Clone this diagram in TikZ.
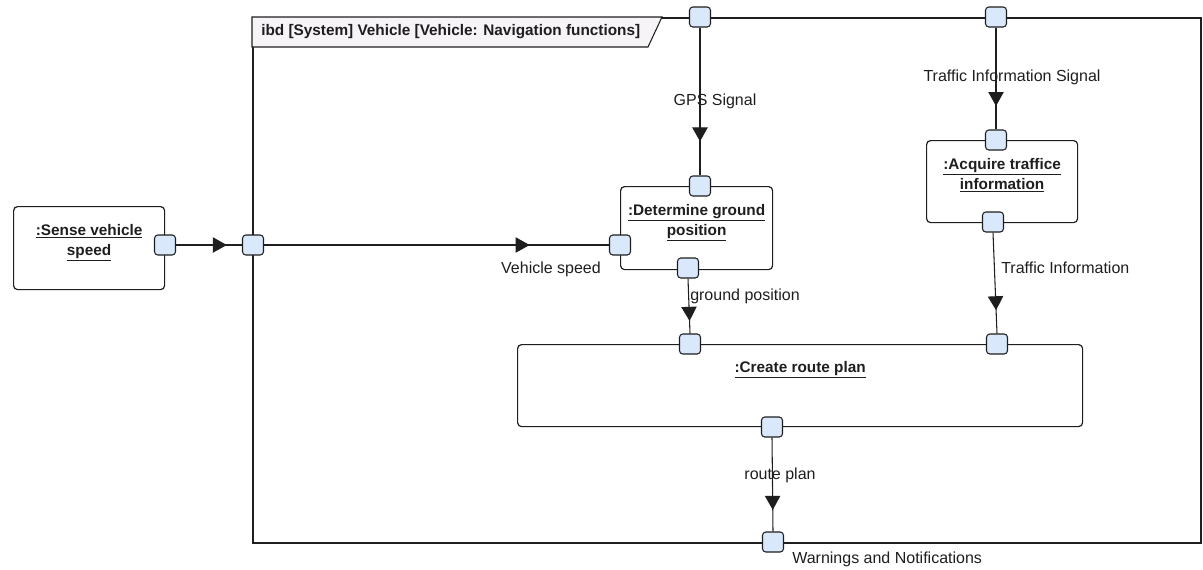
\documentclass[tikz,border=0pt]{standalone}
\usepackage{fontspec}
\setmainfont{Liberation Sans}
\usetikzlibrary{arrows.meta,decorations.markings,calc}

\definecolor{portfill}{HTML}{DAE8FC}
\definecolor{tabfill}{HTML}{F7F4F7}
\definecolor{ink}{HTML}{1E1E1E}

\begin{document}
\begin{tikzpicture}[x=0.75pt,y=-0.75pt,
  every node/.style={text=ink},
  frm/.style={draw=ink, line width=1.4pt, inner sep=0pt, anchor=north west},
  blk/.style={draw=ink, line width=0.9pt, rounded corners=3pt, inner sep=0pt, anchor=north west},
  port/.style={draw=ink, line width=0.8pt, fill=portfill, rounded corners=2.5pt,
    minimum width=15.75pt, minimum height=15pt, inner sep=0pt},
  blktext/.style={anchor=north, align=center, inner sep=0pt,
    font=\fontsize{11.5}{15}\selectfont\bfseries},
  lbl/.style={inner sep=0pt, font=\fontsize{12}{14}\selectfont},
  flow/.style={draw=ink, line width=0.8pt, postaction={decorate},
    decoration={markings, mark=at position 0.77 with {\arrow{Triangle[length=10.5pt,width=11.5pt]}}}}
]
\useasboundingbox (0,0) rectangle (1203,569);

% enclosing ibd frame with its header tab
\node[frm, minimum width=711pt, minimum height=393.75pt] (frame) at (252,17) {};
\path[draw=ink, line width=0.8pt, fill=tabfill]
  (frame.north west) -- ++(410,0) -- ++(-14,30) -- ++(-396,0) -- cycle;
\node[anchor=west, inner sep=0pt, font=\fontsize{11.5}{14}\selectfont\bfseries] (title) at (261,32)
  {ibd [System] Vehicle [Vehicle: Navigation functions]};

% activity parts
\node[blk, minimum width=113.25pt, minimum height=62.25pt] (sense) at (13,206) {};
\node[blktext] (senset) at ($(sense.north)+(0,18)$) {\underline{:Sense vehicle}\\\underline{speed}};

\node[blk, minimum width=114pt, minimum height=62.25pt] (determ) at (620,186) {};
\node[blktext] (determt) at ($(determ.north)+(0,18)$) {\underline{:Determine ground}\\\underline{position}};

\node[blk, minimum width=113.25pt, minimum height=61.5pt] (acq) at (926,140) {};
\node[blktext] (acqt) at ($(acq.north)+(0,18)$) {\underline{:Acquire traffice}\\\underline{information}};

\node[blk, minimum width=423.75pt, minimum height=61.5pt] (route) at (517,344) {};
\node[blktext] (routet) at ($(route.north)+(0,17)$) {\underline{:Create route plan}};

% ports
\node[port] (psense) at (165,245) {};
\node[port] (pfl)    at (253,245) {};
\node[port] (pft1)   at (700,17) {};
\node[port] (pft2)   at (996,17) {};
\node[port] (pfb)    at (773,542) {};
\node[port] (pdtop)  at (700,186) {};
\node[port] (pdleft) at (620,245) {};
\node[port] (pdbot)  at (688,268) {};
\node[port] (patop)  at (996,140) {};
\node[port] (pabot)  at (993,222) {};
\node[port] (pctop1) at (690,344) {};
\node[port] (pctop2) at (997,344) {};
\node[port] (pcbot)  at (772,427) {};

% item flows
\draw[flow] (psense.east) -- (pfl.west);
\draw[flow] (pfl.east) -- (pdleft.west);
\draw[flow] (pft1.south) -- (pdtop.north);
\draw[flow] (pft2.south) -- (patop.north);
\draw[flow] (pabot.south) -- (pctop2.north);
\draw[flow] (pdbot.south) -- (pctop1.north);
\draw[flow] (pcbot.south) -- (pfb.north);

% flow labels
\node[lbl] (lspeed) at (551,269) {Vehicle speed};
\node[lbl] (lgps) at (715,101) {GPS Signal};
\node[lbl] (ltis) at (1012,77) {Traffic Information Signal};
\node[lbl, anchor=west] (lti) at (1001,268) {Traffic Information};
\node[lbl, anchor=west] (lgp) at (690,296) {ground position};
\node[lbl] (lrp) at (780,475) {route plan};
\node[lbl, anchor=west] (lwarn) at (792,559) {Warnings and Notifications};
\end{tikzpicture}
\end{document}
